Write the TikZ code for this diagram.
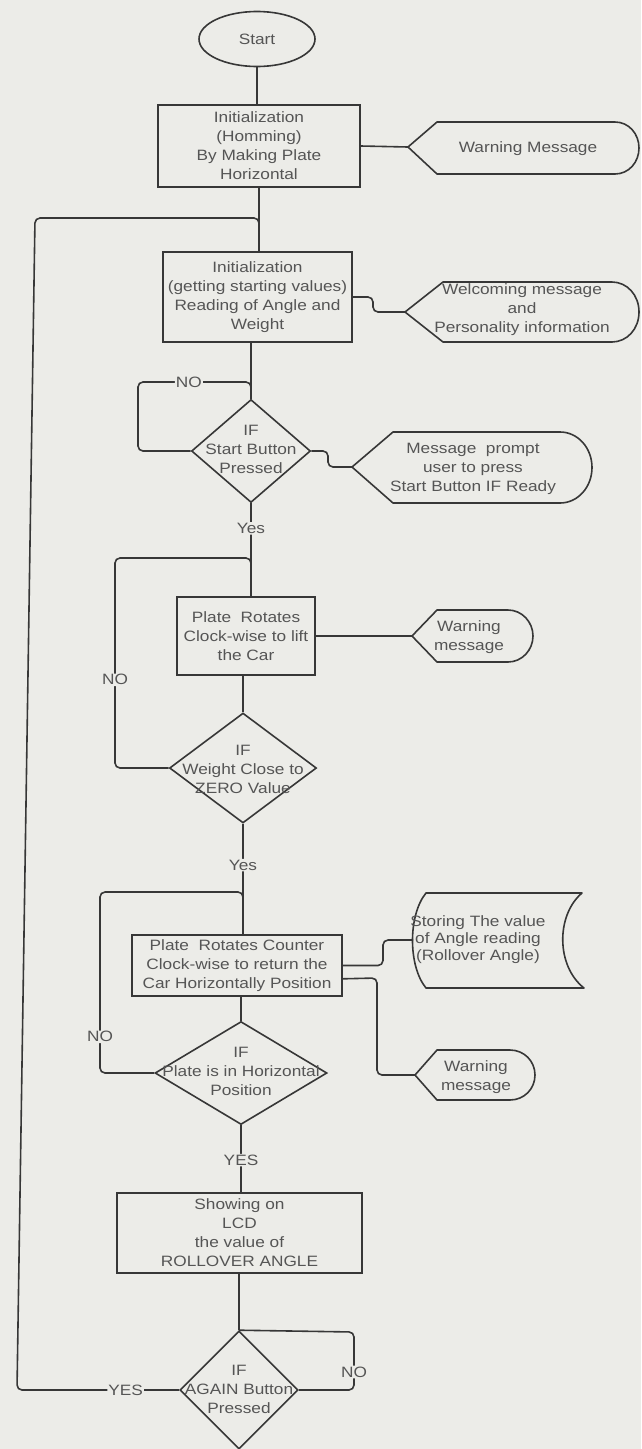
\documentclass[tikz,border=0pt]{standalone}
\usepackage{fontspec}
\setmainfont{Liberation Sans}[FakeStretch=1.15]
\usetikzlibrary{shapes.geometric,calc}
\definecolor{bg}{RGB}{236,236,232}
\definecolor{ln}{RGB}{55,55,55}
\definecolor{tx}{RGB}{85,85,85}
\begin{document}
\begin{tikzpicture}[x=1pt,y=-1pt,
  every node/.style={font=\fontsize{15}{19}\selectfont, text=tx},
  conn/.style={draw=ln, line width=1.6pt, rounded corners=5pt},
  boxnode/.style={draw=ln, line width=1.6pt, fill=bg, rectangle, align=center, inner sep=0pt},
  dia/.style={draw=ln, line width=1.6pt, fill=bg, diamond, inner sep=0pt},
  txt/.style={align=center, inner sep=0pt},
  lbl/.style={fill=bg, inner sep=1pt},
  shp/.style={draw=ln, line width=1.6pt, fill=bg, line join=round}]
\fill[bg] (0,0) rectangle (641,1449);
\useasboundingbox (0,0) rectangle (641,1449);

% ---- main column nodes ----
\node[draw=ln, line width=1.6pt, fill=bg, ellipse, minimum width=116pt, minimum height=55pt, inner sep=0pt] (start) at (257,39) {Start};
\node[boxnode, minimum width=202pt, minimum height=82pt] (b1) at (259,146)
  {Initialization\\(Homming)\\By Making Plate\\Horizontal};
\node[boxnode, minimum width=189pt, minimum height=90pt] (b2) at (257.5,297)
  {Initialization\\(getting starting values)\\Reading of Angle and\\Weight};
\node[dia, minimum width=119pt, minimum height=103pt] (d1) at (251,451) {};
\node[txt] (d1t) at (251,449) {IF\\Start Button\\Pressed};
\node[boxnode, minimum width=138pt, minimum height=78pt] (b3) at (246,636)
  {Plate~ Rotates\\Clock-wise to lift\\the Car};
\node[dia, minimum width=147pt, minimum height=110pt] (d2) at (243,768) {};
\node[txt] (d2t) at (243,769) {IF\\Weight Close to\\ZERO Value};
\node[boxnode, minimum width=210pt, minimum height=61pt] (b4) at (237,965.5)
  {Plate~ Rotates Counter\\Clock-wise to return the\\Car Horizontally Position};
\node[dia, minimum width=172pt, minimum height=103pt] (d3) at (241,1073) {};
\node[txt] (d3t) at (241,1071) {IF\\Plate is in Horizontal\\Position};
\node[boxnode, minimum width=245pt, minimum height=80pt] (b5) at (239.5,1233)
  {Showing on\\LCD\\the value of\\ROLLOVER ANGLE};
\node[dia, minimum width=118pt, minimum height=118pt] (d4) at (239,1390) {};
\node[txt] (d4t) at (239,1389) {IF\\AGAIN Button\\Pressed};

% ---- side display shapes ----
\coordinate (w1tip) at (408,147);
\draw[shp] (w1tip) -- (437,122) -- (615,122) .. controls (629,122) and (639,134) .. (639,148)
  .. controls (639,162) and (629,174) .. (615,174) -- (437,174) -- cycle;
\node[txt] (w1t) at (528,149) {Warning Message};

\coordinate (w2tip) at (405,312);
\draw[shp] (w2tip) -- (443,282) -- (612,282) .. controls (627,282) and (639,295) .. (639,312)
  .. controls (639,329) and (627,342) .. (612,342) -- (443,342) -- cycle;
\node[txt] (w2t) at (522,310) {Welcoming message\\and\\Personality information};

\coordinate (w3tip) at (352,467);
\draw[shp] (w3tip) -- (393,432) -- (560,432) .. controls (578,432) and (592,448) .. (592,467.5)
  .. controls (592,487) and (578,503) .. (560,503) -- (393,503) -- cycle;
\node[txt] (w3t) at (473,469) {Message~ prompt\\user to press\\Start Button IF Ready};

\coordinate (w4tip) at (412,636);
\draw[shp] (w4tip) -- (437,610) -- (508,610) .. controls (522,610) and (533,622) .. (533,636)
  .. controls (533,650) and (522,662) .. (508,662) -- (437,662) -- cycle;
\node[txt] (w4t) at (469,637) {Warning\\message};

\coordinate (stip) at (413,940);
\draw[shp] (426,893) -- (582,893) .. controls (556,915) and (556,966) .. (584,988)
  -- (426,988) .. controls (408,966) and (408,915) .. (426,893) -- cycle;
\node[txt, font=\fontsize{15}{17}\selectfont] (st) at (478,940) {Storing The value\\of Angle reading\\(Rollover Angle)};

\coordinate (w5tip) at (415,1075);
\draw[shp] (w5tip) -- (437,1050) -- (510,1050) .. controls (524,1050) and (535,1061) .. (535,1075)
  .. controls (535,1089) and (524,1100) .. (510,1100) -- (437,1100) -- cycle;
\node[txt] (w5t) at (476,1077) {Warning\\message};

% ---- connectors ----
\draw[conn] (start.south) -- (start.south |- b1.north);
\draw[conn] (b1.east) -- (w1tip);
\draw[conn] (b1.south) -- (b1.south |- b2.north);
\draw[conn] (b2.east) -- (373,297) -- (373,312) -- (w2tip);
\draw[conn] (d1.north |- b2.south) -- (d1.north);
\draw[conn] (d1.west) -- (138,451) -- (138,382) -- node[lbl,pos=0.45]{NO} (251,382) -- (251,394);
\draw[conn] (d1.east) -- (328,451) -- (328,467) -- (w3tip);
\draw[conn] (d1.south) -- node[lbl,pos=0.27]{Yes} (d1.south |- b3.north);
\draw[conn] (b3.east) -- (w4tip);
\draw[conn] (d2.north |- b3.south) -- (d2.north);
\draw[conn] (d2.west) -- (115,768) -- node[lbl,pos=0.42]{NO} (115,558) -- (251,558) -- (251,572);
\draw[conn] (d2.south) -- node[lbl,pos=0.375]{Yes} (d2.south |- b4.north);
\draw[conn] (b4.east) -- (383,965.5) -- (383,940) -- (stip);
\draw[conn] ($(b4.south east)+(0,-18)$) -- (377,978) -- (377,1075) -- (w5tip);
\draw[conn] (d3.north |- b4.south) -- (d3.north);
\draw[conn] (d3.west) -- (100,1073) -- node[lbl,pos=0.2]{NO} (100,892) -- (243,892) -- (243,906);
\draw[conn] (d3.south) -- node[lbl,pos=0.52]{YES} (d3.south |- b5.north);
\draw[conn] (d4.north |- b5.south) -- (d4.north);
\draw[conn] (d4.east) -- (354,1390) -- node[lbl,pos=0.31]{NO} (354,1332) -- (d4.north);
\draw[conn] (d4.west) -- node[lbl,pos=0.33]{YES} (17,1390) -- (35,218) -- (259,218) -- (259,230);
\end{tikzpicture}
\end{document}
